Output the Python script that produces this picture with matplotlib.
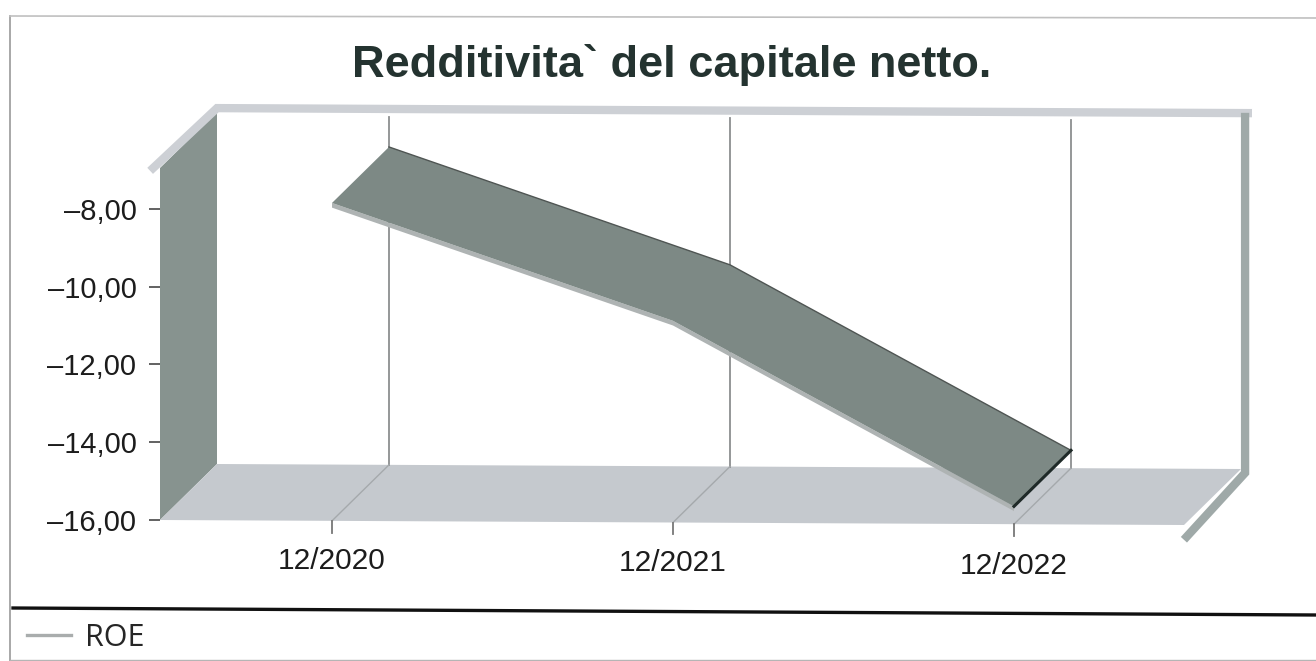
import matplotlib
matplotlib.use("Agg")
import matplotlib.pyplot as plt
from matplotlib.lines import Line2D
from matplotlib.patches import Polygon
from matplotlib.transforms import ScaledTranslation
import numpy as np

W, H = 1316, 661

# data
periods = ["12/2020", "12/2021", "12/2022"]
roe = [-7.85, -10.88, -15.65]
y_ticks = [-8, -10, -12, -14, -16]
y_labels = ["\u20138,00", "\u201310,00", "\u201312,00", "\u201314,00", "\u201316,00"]

plt.rcParams['font.family'] = ['Liberation Sans', 'DejaVu Sans']

fig = plt.figure(figsize=(W / 100, H / 100), dpi=100, facecolor="white")

# axes = front plane of the fake 3d box, in pixels of the reference
ax = fig.add_axes([160 / W, (H - 520) / H, 1024 / W, 352 / H])
x0, x1 = -172 / 341, 852 / 341
y0, y1 = -16, -16 + 352 / 38.9
ax.set_xlim(x0, x1)
ax.set_ylim(y0, y1)
ax.patch.set_alpha(0)
for s in ax.spines.values():
    s.set_visible(False)

# depth of the box
dx = 57 / 341
dy = 56 / 38.9
wall = "#87938f"
floor = "#c5c9ce"
rim = "#cdd0d5"
side = "#9fa9a8"


# the scan is slightly rotated, things drop about 5px going right
def drop(x):
    return -(5 / 38.9) * (x - x0) / (x1 - x0)


# left wall
ax.add_patch(Polygon([(x0, y0), (x0 + dx, y0 + dy), (x0 + dx, y1 + dy), (x0, y1)],
                     fc=wall, ec="none", clip_on=False, zorder=1))
# floor
ax.add_patch(Polygon([(x0, y0), (x0 + dx, y0 + dy), (x1 + dx, y0 + dy + drop(x1)), (x1, y0 + drop(x1))],
                     fc=floor, ec="none", clip_on=False, zorder=1))
# top rim
ax.plot([x0 - 0.02, x0 + dx, x1 + dx + 0.02], [y1, y1 + dy + 0.1, y1 + dy + 0.1 + drop(x1)],
        color=rim, lw=6, clip_on=False, zorder=2, solid_joinstyle="miter")
# right rim, down the back and along the floor
ax.plot([x1 + dx + 0.012, x1 + dx + 0.012, x1 + 0.008],
        [y1 + dy + drop(x1), y0 + dy - 0.1 + drop(x1), y0 - 0.3 + drop(x1)],
        color=side, lw=6, clip_on=False, zorder=2, solid_joinstyle="miter")

# gridlines on back wall and floor, x ticks below the floor
for i in range(len(periods)):
    d = drop(i)
    ax.plot([i + dx, i + dx], [y0 + dy + d, y1 + dy - 0.1 + d], color="#8c8f90", lw=1.3, clip_on=False, zorder=2)
    ax.plot([i, i + dx], [y0 + d, y0 + dy + d], color="#a5a9ac", lw=1, clip_on=False, zorder=2)
    ax.plot([i, i], [y0 + d, y0 + d - 0.3], color="#777777", lw=1.3, clip_on=False, zorder=2)

# ribbon
xs = np.arange(len(roe))
vals = np.array(roe)
ribbon = list(zip(xs, vals)) + list(zip(xs[::-1] + dx, vals[::-1] + dy))
under = list(zip(xs, vals)) + list(zip(xs[::-1], vals[::-1] - 0.12))
ax.add_patch(Polygon(under, fc="#aeb3b3", ec="none", clip_on=False, zorder=3))
ax.add_patch(Polygon(ribbon, fc="#7d8985", ec="none", clip_on=False, zorder=4))
ax.plot(xs + dx, vals + dy, color="#4f5553", lw=1, zorder=5, clip_on=False)
ax.plot([xs[-1], xs[-1] + dx], [vals[-1], vals[-1] + dy], color="#1f2a28", lw=2.2, zorder=5, clip_on=False)

# ticks
ax.set_yticks(y_ticks)
ax.set_yticklabels(y_labels, fontsize=21, color="#1c1c1c")
ax.tick_params(axis="y", length=8, width=1.3, color="#555555", pad=9)
ax.set_xticks(xs)
ax.set_xticklabels(periods, fontsize=21.5, color="#1c1c1c")
ax.tick_params(axis="x", length=0, pad=19.5)
for lab, shift in zip(ax.get_xticklabels(), [0, 2, 5]):
    lab.set_transform(lab.get_transform() + ScaledTranslation(0, -shift / 100, fig.dpi_scale_trans))

fig.text(672 / W, 1 - 65 / H, "Redditivita` del capitale netto.", fontsize=32.5, fontweight="bold",
         color="#243330", ha="center", va="center")

# outer frame and legend separator
frame = [([10, 10], [16, 661], "#a8a8a8", 1.4), ([10, 1316], [16, 18], "#c0c0c0", 1.2),
         ([13, 1316], [608, 615], "#111111", 2.4), ([10, 1316], [660, 660], "#b5b5b5", 1.0)]
for fx, fy, c, lw in frame:
    fig.add_artist(Line2D(np.array(fx) / W, 1 - np.array(fy) / H, color=c, lw=lw))

handle = Line2D([], [], color="#a9adad", lw=2.4)
fig.legend([handle], ["ROE"], loc="center left", bbox_to_anchor=(27 / W, 1 - 638 / H), frameon=False,
           prop={"family": "Open Sans", "size": 22}, labelcolor="#262626",
           handlelength=1.44, handletextpad=0.46, borderpad=0, borderaxespad=0)

fig.savefig("out.png", dpi=100)
